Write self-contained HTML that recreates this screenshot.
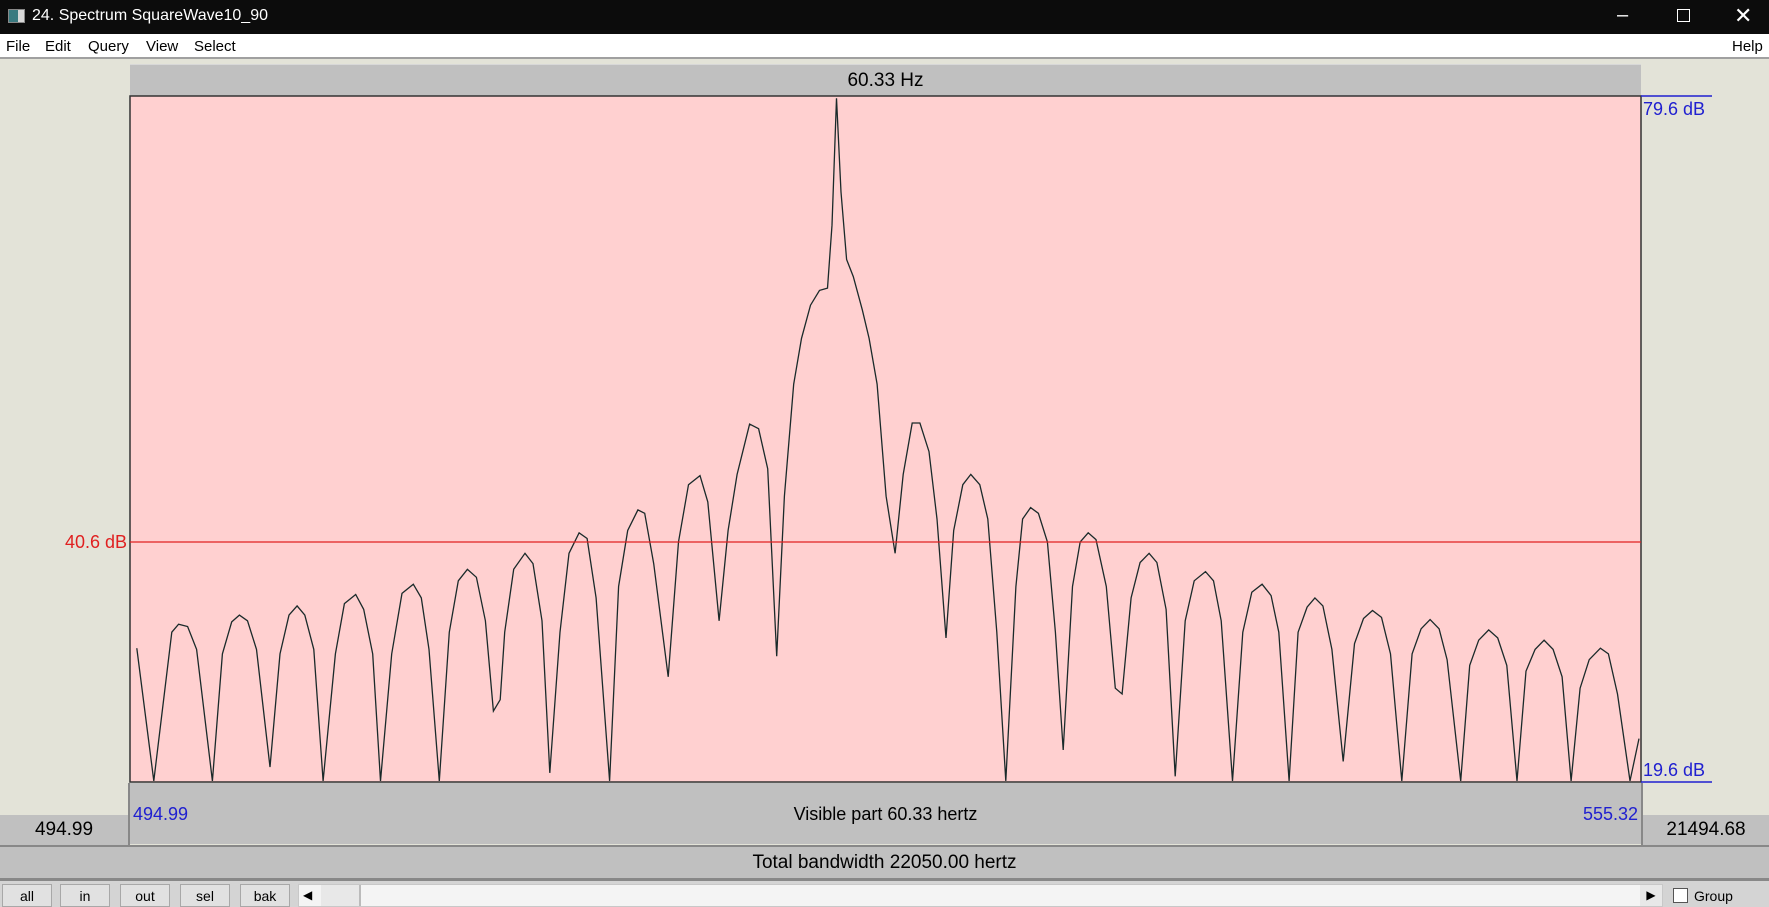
<!DOCTYPE html>
<html><head><meta charset="utf-8">
<style>
*{margin:0;padding:0;box-sizing:border-box}
body{width:1769px;height:907px;overflow:hidden;background:#e3e3d8;font-family:"Liberation Sans",sans-serif;position:relative}
.abs{position:absolute}
#titlebar{left:0;top:0;width:1769px;height:34px;background:#0c0c0c;color:#fff;font-size:16px}
#menubar{left:0;top:34px;width:1769px;height:25px;background:#fff;font-size:15px;color:#000;border-bottom:2px solid #a0a0a0}
.menu{position:absolute;top:4px}
.gray{background:#c0c0c0}
.btn{position:absolute;top:884px;height:23px;width:50px;background:#e1e1e1;border:1px solid #a8a8a8;font-size:14px;text-align:center;line-height:22px}
</style></head><body>
<div id="titlebar" class="abs">
  <div class="abs" style="left:8px;top:9px;width:17px;height:14px;background:#d8d8d8;border:1px solid #888"><div style="width:9px;height:12px;background:#3a7a80"></div></div>
  <div class="abs" style="left:32px;top:7px">24. Spectrum SquareWave10_90</div>
  <div class="abs" style="left:1617px;top:4px;font-size:20px">&#8211;</div>
  <div class="abs" style="left:1677px;top:9px;width:13px;height:13px;border:1px solid #fff"></div>
  <div class="abs" style="left:1734px;top:3px;font-size:22px">&#10005;</div>
</div>
<div id="menubar" class="abs">
  <span class="menu" style="left:6px">File</span>
  <span class="menu" style="left:45px">Edit</span>
  <span class="menu" style="left:88px">Query</span>
  <span class="menu" style="left:146px">View</span>
  <span class="menu" style="left:194px">Select</span>
  <span class="menu" style="left:1732px">Help</span>
</div>
<div class="abs gray" style="left:130px;top:64px;width:1511px;height:32px;font-size:19px;text-align:center;line-height:32px;border-top:1px solid #d8d8d8">60.33 Hz</div>

<svg class="abs" style="left:0;top:0" width="1769" height="907">
  <rect x="130" y="96" width="1511" height="686" fill="#ffd0d0" stroke="#333" stroke-width="1.5"/>
  <g id="marks"></g>
  <line x1="130" x2="1641" y1="542" y2="542" stroke="#e02020" stroke-width="1.3"/>
  <text x="127" y="548" text-anchor="end" fill="#e02020" font-size="18" font-family="Liberation Sans">40.6 dB</text>
  <line x1="1641" x2="1712" y1="96" y2="96" stroke="#2020d0" stroke-width="1.5"/>
  <text x="1643" y="115" fill="#2020d0" font-size="18" font-family="Liberation Sans">79.6 dB</text>
  <line x1="1641" x2="1712" y1="782" y2="782" stroke="#2020d0" stroke-width="1.5"/>
  <text x="1643" y="776" fill="#2020d0" font-size="18" font-family="Liberation Sans">19.6 dB</text>
</svg>

<div class="abs gray" style="left:130px;top:783px;width:1511px;height:61px">
  <div class="abs" style="left:3px;top:21px;color:#2020d0;font-size:18px">494.99</div>
  <div class="abs" style="left:0;width:1511px;top:21px;text-align:center;font-size:18px">Visible part 60.33 hertz</div>
  <div class="abs" style="right:3px;top:21px;color:#2020d0;font-size:18px">555.32</div>
</div>
<div class="abs" style="left:128px;top:783px;width:2px;height:62px;background:#888"></div>
<div class="abs" style="left:1641px;top:783px;width:2px;height:62px;background:#888"></div>
<div class="abs gray" style="left:0;top:815px;width:128px;height:30px;font-size:19px;text-align:center;line-height:30px">494.99</div>
<div class="abs gray" style="left:1643px;top:815px;width:126px;height:30px;font-size:19px;text-align:center;line-height:30px">21494.68</div>
<div class="abs" style="left:0;top:845px;width:1769px;height:2px;background:#888"></div>
<div class="abs gray" style="left:0;top:847px;width:1769px;height:31px;font-size:19px;text-align:center;line-height:31px">Total bandwidth 22050.00 hertz</div>
<div class="abs" style="left:0;top:878px;width:1769px;height:3px;background:#888"></div>
<div class="abs" style="left:0;top:881px;width:1769px;height:26px;background:#d4d4d4"></div>
<div class="btn" style="left:2px">all</div>
<div class="btn" style="left:60px">in</div>
<div class="btn" style="left:120px">out</div>
<div class="btn" style="left:180px">sel</div>
<div class="btn" style="left:240px">bak</div>
<div class="abs" style="left:298px;top:884px;width:1365px;height:23px;background:#f4f4f4;border:1px solid #c8c8c8">
  <div class="abs" style="left:4px;top:3px;font-size:12px">&#9664;</div>
  <div class="abs" style="left:22px;top:0;width:40px;height:21px;background:#e8e8e8;border-right:2px solid #bbb"></div>
  <div class="abs" style="right:0;top:0;width:22px;height:21px;background:#e8e8e8;font-size:12px;text-align:center;line-height:21px">&#9654;</div>
</div>
<div class="abs" style="left:1673px;top:888px;width:15px;height:15px;background:#fff;border:1px solid #555"></div>
<div class="abs" style="left:1694px;top:888px;font-size:14px">Group</div>

<script>
const freqs=[495.26,495.94,496.66,496.93,497.29,497.65,498.28,498.68,499.05,499.36,499.68,500.04,500.58,500.98,501.34,501.66,501.97,502.33,502.70,503.19,503.55,504.00,504.32,504.68,504.99,505.44,505.85,506.30,506.62,506.93,507.34,507.74,508.10,508.46,508.82,509.18,509.50,509.77,509.95,510.31,510.76,511.08,511.44,511.75,512.16,512.52,512.92,513.24,513.60,514.14,514.50,514.86,515.27,515.54,515.90,516.48,516.89,517.29,517.75,518.06,518.51,518.87,519.23,519.73,520.09,520.45,520.81,521.12,521.49,521.80,522.16,522.52,522.84,523.02,523.20,523.38,523.60,523.87,524.23,524.50,524.82,525.18,525.54,525.86,526.22,526.53,526.89,527.21,527.57,527.88,528.24,528.56,528.92,529.24,529.60,529.96,530.36,530.63,530.95,531.26,531.62,531.94,532.25,532.62,532.93,533.25,533.56,533.97,534.33,534.60,534.96,535.32,535.68,535.99,536.36,536.72,537.12,537.48,537.93,538.25,538.56,539.01,539.42,539.78,540.19,540.55,540.86,541.27,541.63,541.99,542.30,542.62,542.98,543.43,543.88,544.24,544.60,544.96,545.32,545.77,546.18,546.54,546.90,547.26,547.58,548.12,548.48,548.84,549.24,549.60,549.96,550.37,550.73,551.09,551.45,551.81,552.17,552.53,552.89,553.25,553.70,554.02,554.38,554.88,555.24];
const dbValues=[31.3,19.7,32.7,33.4,33.2,31.2,19.7,30.8,33.6,34.2,33.7,31.2,20.9,30.8,34.2,35.0,34.2,31.2,19.7,30.8,35.2,36.0,34.7,30.8,19.7,30.8,36.1,36.9,35.7,31.2,19.7,32.7,37.2,38.2,37.5,33.7,25.8,26.8,32.7,38.2,39.6,38.7,33.7,20.4,32.7,39.6,41.4,40.9,35.7,19.7,36.7,41.6,43.4,43.1,38.7,28.8,40.6,45.6,46.4,44.1,33.7,41.6,46.5,50.9,50.5,47.0,30.6,44.6,54.4,58.4,61.3,62.6,62.8,68.3,79.4,71.2,65.3,63.8,60.9,58.4,54.4,44.6,39.6,46.5,51.0,51.0,48.5,42.6,32.2,41.6,45.6,46.5,45.6,42.6,32.7,19.7,36.7,42.6,43.6,43.1,40.6,32.7,22.4,36.7,40.6,41.4,40.8,36.7,27.8,27.3,35.7,38.8,39.6,38.8,34.7,20.1,33.7,37.2,38.0,37.2,33.7,19.7,32.7,36.2,36.9,35.9,32.7,19.7,32.7,34.9,35.7,35.0,31.2,21.4,31.7,33.9,34.6,34.0,30.8,19.7,30.8,33.0,33.8,33.0,30.3,19.7,29.8,32.0,32.9,32.2,29.8,19.7,29.3,31.2,32.0,31.2,28.8,19.7,27.8,30.3,31.3,30.8,27.3,19.7,23.4];
const xDomain=[494.99,555.32];
const yDomain=[19.6,79.6];
const PL=130,PR=1641,PT=96,PB=782;
function xScale(f){return PL+(f-xDomain[0])/(xDomain[1]-xDomain[0])*(PR-PL);}
function yScale(d){return PB-(d-yDomain[0])/(yDomain[1]-yDomain[0])*(PB-PT);}
const pts=freqs.map((f,i)=>xScale(f).toFixed(1)+','+Math.min(PB,yScale(dbValues[i])).toFixed(1)).join(' ');
const pl=document.createElementNS('http://www.w3.org/2000/svg','polyline');
pl.setAttribute('points',pts);
pl.setAttribute('fill','none');
pl.setAttribute('stroke','#1a2a2a');
pl.setAttribute('stroke-width','1.3');


document.getElementById('marks').appendChild(pl);
</script>
</body></html>
